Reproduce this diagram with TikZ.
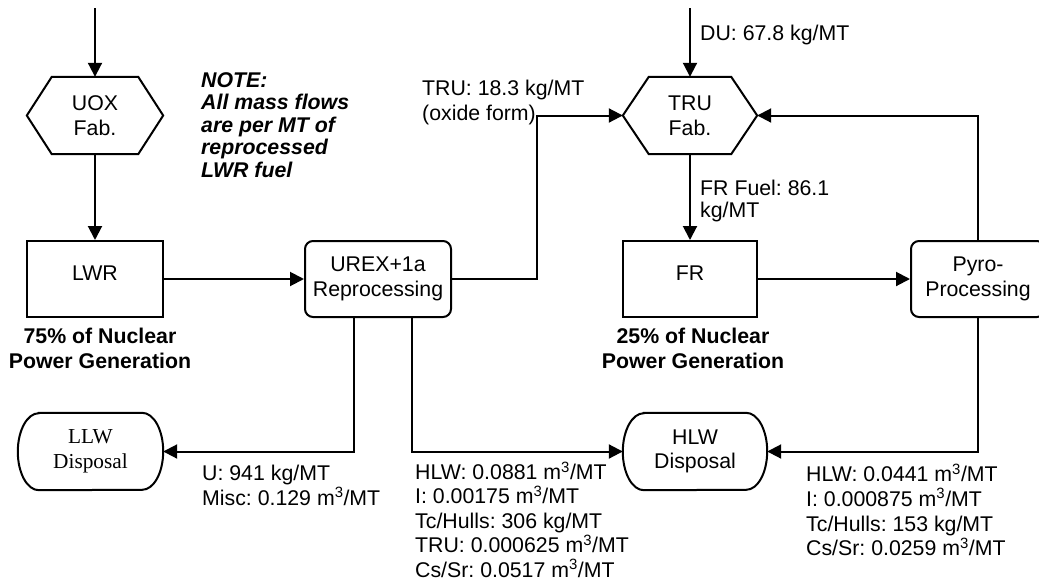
\documentclass[tikz,border=0pt]{standalone}
\usepackage{fontspec}
\setmainfont{Liberation Sans}
\newfontfamily\serifft{Liberation Serif}
\usetikzlibrary{arrows.meta}
\newcommand\drawhex[2]{%
  \draw[line width=2pt] (#1.west) -- ([xshift=#2]#1.north west) -- ([xshift=-#2]#1.north east) -- (#1.east)
    -- ([xshift=-#2]#1.south east) -- ([xshift=#2]#1.south west) -- cycle;}
\newcommand\drawterm[2]{%
  \draw[line width=2pt] ([xshift=#2]#1.north west) -- ([xshift=-#2]#1.north east)
    arc[start angle=90,end angle=-90,x radius=#2,y radius=38.5pt]
    -- ([xshift=#2]#1.south west)
    arc[start angle=270,end angle=90,x radius=#2,y radius=38.5pt] -- cycle;}
\begin{document}
\frenchspacing
\begin{tikzpicture}[x=1pt,y=-1pt,
  font=\fontsize{21.3}{24.7}\selectfont,
  arr/.style={-{Triangle[length=14pt,width=14pt]}, line width=2pt},
  boxn/.style={draw, line width=2pt, minimum width=#1, minimum height=76pt, inner sep=0pt, align=center},
  rbox/.style={boxn=#1, rounded corners=8pt},
  hexn/.style={minimum width=#1, minimum height=77pt, inner sep=0pt, align=center},
  termn/.style={minimum width=#1, minimum height=77pt, inner sep=0pt, align=center},
  lab/.style={inner sep=0pt, align=left, anchor=west},
  pct/.style={inner sep=0pt, align=center, font=\fontsize{21.3}{25}\selectfont\bfseries}]
\useasboundingbox (0,0) rectangle (1039,581);
% nodes
\node[hexn=136pt] (uox) at (95,115.5) {UOX\\Fab.};
\drawhex{uox}{25pt}
\node[boxn=136pt, text depth=12pt] (lwr) at (95,279) {LWR};
\node[rbox=146pt] (urex) at (378,279) {UREX+1a\\Reprocessing};
\node[hexn=134pt] (trufab) at (690,115.5) {TRU\\Fab.};
\drawhex{trufab}{26pt}
\node[boxn=134pt, text depth=12pt] (fr) at (690,279) {FR};
\node[rbox=134pt] (pyro) at (978,279) {Pyro-\\Processing};
\node[termn=145pt, font={\serifft\fontsize{21.3}{24.7}\selectfont}] (llw) at (90.5,451.5) {LLW\\Disposal};
\drawterm{llw}{21pt}
\node[termn=144pt] (hlw) at (695,451.5) {HLW\\Disposal};
\drawterm{hlw}{21pt}
% labels
\node[lab, font=\fontsize{21.3}{22.5}\selectfont\bfseries\itshape] (note) at (201,125) {NOTE:\\All mass flows\\are per MT of\\reprocessed\\LWR fuel};
\node[lab, font=\fontsize{21.3}{25}\selectfont] (trulab) at (422,102.7) {TRU: 18.3 kg/MT\\(oxide form)};
\node[lab] (dulab) at (700,35.2) {DU: 67.8 kg/MT};
\node[lab, font=\fontsize{21.3}{22}\selectfont] (frlab) at (700,201.2) {FR Fuel: 86.1\\kg/MT};
\node[pct] (lwrpct) at (100,348.5) {75\% of Nuclear\\Power Generation};
\node[pct] (frpct) at (693,348.5) {25\% of Nuclear\\Power Generation};
\node[lab] (ulab) at (202,485.5) {U: 941 kg/MT\\Misc: 0.129 m\textsuperscript{3}/MT};
\node[lab, font=\fontsize{21.3}{24.4}\selectfont] (hlwlab1) at (415,519.5) {HLW: 0.0881 m\textsuperscript{3}/MT\\I: 0.00175 m\textsuperscript{3}/MT\\Tc/Hulls: 306 kg/MT\\TRU: 0.000625 m\textsuperscript{3}/MT\\Cs/Sr: 0.0517 m\textsuperscript{3}/MT};
\node[lab] (hlwlab2) at (806,510) {HLW: 0.0441 m\textsuperscript{3}/MT\\I: 0.000875 m\textsuperscript{3}/MT\\Tc/Hulls: 153 kg/MT\\Cs/Sr: 0.0259 m\textsuperscript{3}/MT};
% connectors
\coordinate (src1) at (95,8);
\coordinate (src2) at (690,8);
\coordinate (j1) at (537,279);
\draw[arr] (src1) -- (uox.north);
\draw[arr] (uox.south) -- (lwr.north);
\draw[arr] (lwr.east) -- (urex.west);
\draw[arr] (urex.east) -- (j1) |- (trufab.west);
\draw[arr] (src2) -- (trufab.north);
\draw[arr] (trufab.south) -- (fr.north);
\draw[arr] (fr.east) -- (pyro.west);
\draw[arr] (pyro.north) |- (trufab.east);
\draw[arr] ([xshift=-24pt]urex.south) |- (llw.east);
\draw[arr] ([xshift=34pt]urex.south) |- (hlw.west);
\draw[arr] (pyro.south) |- (hlw.east);
\end{tikzpicture}
\end{document}
